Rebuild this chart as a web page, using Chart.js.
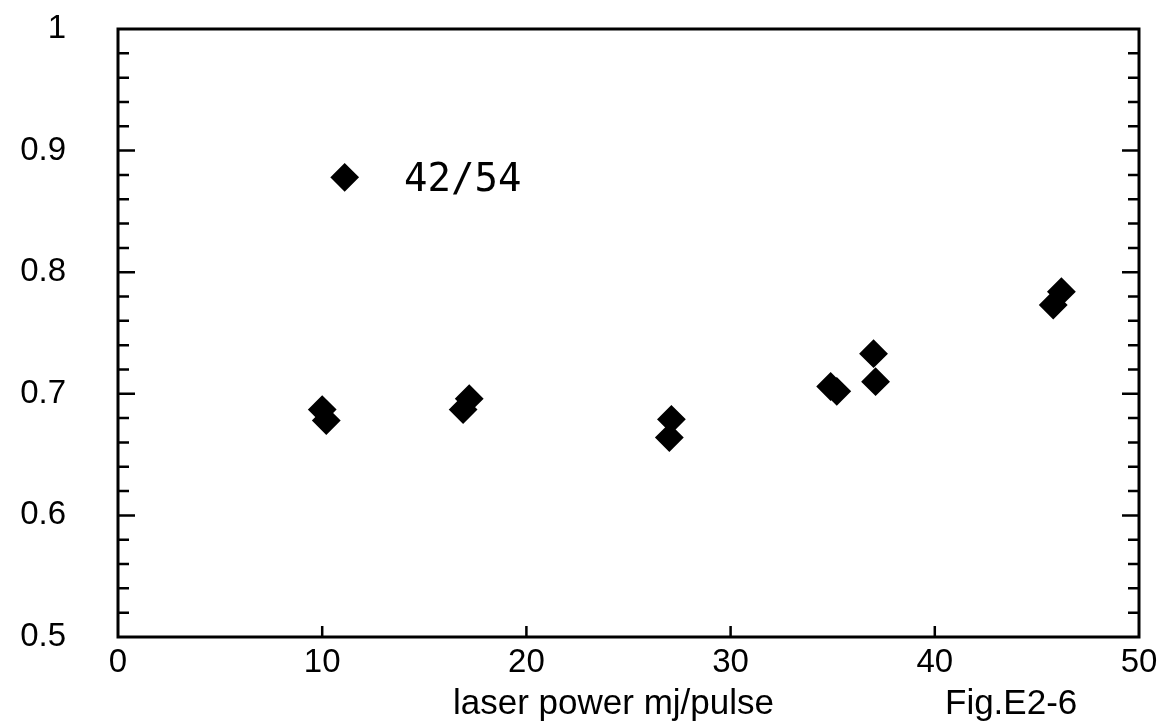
<!DOCTYPE html>
<html>
<head>
<meta charset="utf-8">
<script src="https://cdn.jsdelivr.net/npm/chart.js@4.4.0/dist/chart.umd.min.js"></script>
<style>
  html, body { margin: 0; padding: 0; background: #fff; }
  #wrap { width: 1159px; height: 726px; }
</style>
</head>
<body>
<div id="wrap"><canvas id="myChart" width="1159" height="726"></canvas></div>
<script>
// datos
const serieNombre = '42/54'
const potencia = [10.0, 10.2, 16.9, 17.2, 27.0, 27.1, 34.9, 35.2, 37.0, 37.1, 45.8, 46.2]
const razon = [0.687, 0.678, 0.687, 0.696, 0.664, 0.679, 0.706, 0.702, 0.733, 0.710, 0.773, 0.784]
const xTicks = [0, 10, 20, 30, 40, 50]
const yTicks = [0.5, 0.6, 0.7, 0.8, 0.9, 1]
const yMinor = 0.02
const tituloX = 'laser power mj/pulse'
const figura = 'Fig.E2-6'

const puntos = potencia.map((p, i) => ({ x: p, y: razon[i] }))

// ejes tipo caja con marcas hacia adentro
const marcoPlugin = {
  id: 'marco',
  afterDatasetsDraw(chart) {
    const ctx = chart.ctx
    const a = chart.chartArea
    const xs = chart.scales.x
    const ys = chart.scales.y
    ctx.save()
    ctx.strokeStyle = '#000'
    ctx.lineWidth = 3
    ctx.strokeRect(a.left, a.top, a.right - a.left, a.bottom - a.top)

    ctx.lineWidth = 2.5
    ctx.beginPath()
    // y: menores cada 0.02, mayores cada 0.1
    const n = Math.round((yTicks[yTicks.length - 1] - yTicks[0]) / yMinor)
    for (let i = 1; i < n; i++) {
      const v = yTicks[0] + i * yMinor
      const py = ys.getPixelForValue(v)
      const largo = (i % 5 === 0) ? 17 : 11
      ctx.moveTo(a.left, py); ctx.lineTo(a.left + largo, py)
      ctx.moveTo(a.right, py); ctx.lineTo(a.right - largo, py)
    }
    // x: solo abajo
    xTicks.slice(1, -1).forEach(v => {
      const px = xs.getPixelForValue(v)
      ctx.moveTo(px, a.bottom); ctx.lineTo(px, a.bottom - 11)
    })
    ctx.stroke()

    // leyenda
    const ds = chart.data.datasets[0]
    const lx = xs.getPixelForValue(11.1)
    const ly = ys.getPixelForValue(0.878)
    ctx.fillStyle = '#000'
    ctx.strokeStyle = '#000'
    ctx.lineWidth = 2
    Chart.helpers.drawPoint(ctx, { pointStyle: 'rectRot', radius: 13, borderWidth: 2 }, lx, ly)
    ctx.font = '39px "DejaVu Sans Mono"'
    ctx.textBaseline = 'alphabetic'
    ctx.textAlign = 'left'
    ctx.fillText(ds.label, 404, 191)

    // textos de abajo
    ctx.font = '35px "Liberation Sans", Arial, sans-serif'
    ctx.fillText(tituloX, 453, 714)
    ctx.fillText(figura, 945, 714)
    ctx.restore()
  }
}

const sinPadding = (s) => {
  s.paddingTop = 0; s.paddingBottom = 0
  s.paddingLeft = 0; s.paddingRight = 0
}

const data = {
  datasets: [{
    label: serieNombre,
    data: puntos,
    pointStyle: 'rectRot',
    pointRadius: 13,
    pointHoverRadius: 13,
    pointBorderWidth: 2,
    backgroundColor: '#000',
    borderColor: '#000',
    showLine: false
  }]
}

const config = {
  type: 'scatter',
  data: data,
  options: {
    responsive: false,
    animation: false,
    layout: { padding: { top: 29, right: 20, left: 0, bottom: 0 } },
    plugins: {
      legend: { display: false },
      tooltip: { enabled: false }
    },
    scales: {
      x: {
        type: 'linear',
        min: 0,
        max: 50,
        grid: { display: false, drawTicks: false },
        border: { display: false },
        afterBuildTicks: (s) => { s.ticks = xTicks.map(v => ({ value: v })) },
        afterFit: (s) => { s.height = 89; sinPadding(s) },
        ticks: {
          color: '#000',
          padding: 6,
          maxRotation: 0,
          font: { family: '"Liberation Sans", Arial, sans-serif', size: 33 },
          callback: (v) => String(v)
        }
      },
      y: {
        type: 'linear',
        min: 0.5,
        max: 1,
        grid: { display: false, drawTicks: false },
        border: { display: false },
        afterBuildTicks: (s) => { s.ticks = yTicks.map(v => ({ value: v })) },
        afterFit: (s) => { s.width = 118; sinPadding(s) },
        ticks: {
          color: '#000',
          padding: 52,
          font: { family: '"Liberation Sans", Arial, sans-serif', size: 33 },
          callback: (v) => String(v)
        }
      }
    }
  },
  plugins: [marcoPlugin]
}

const myChart = new Chart(document.getElementById('myChart'), config)
</script>
</body>
</html>
